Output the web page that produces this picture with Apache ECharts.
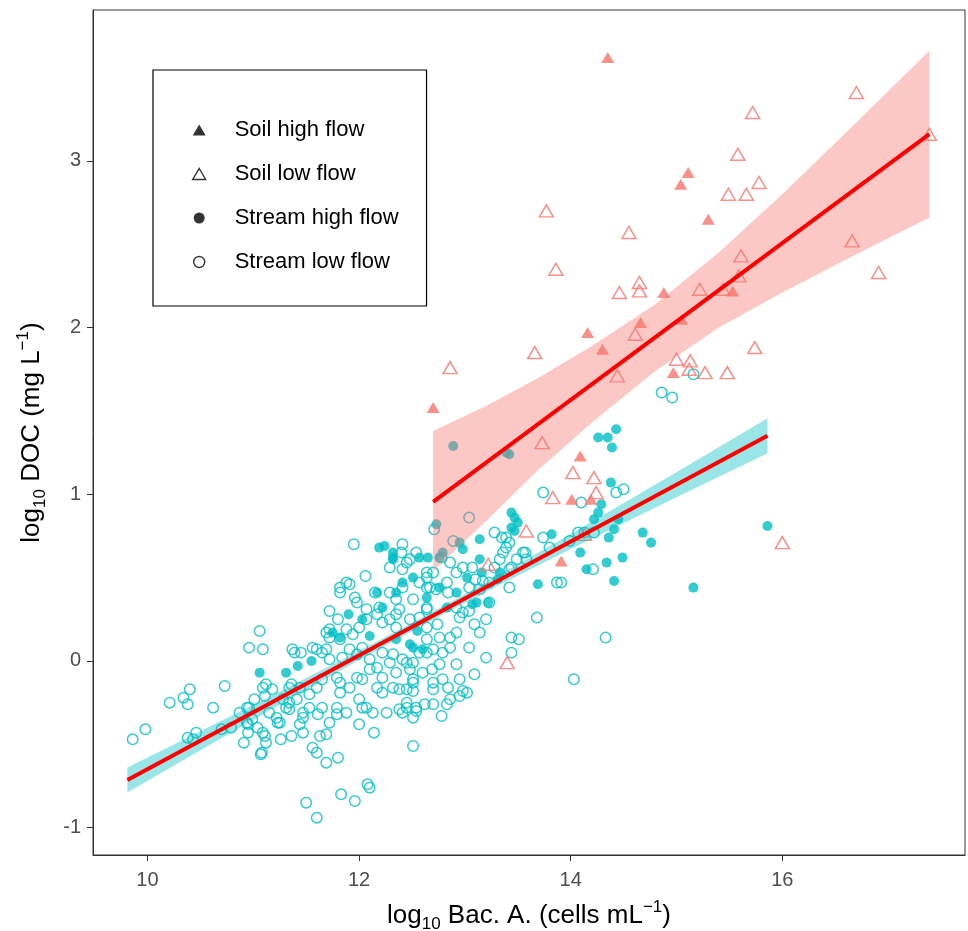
<!DOCTYPE html>
<html>
<head>
<meta charset="utf-8">
<script src="https://cdn.jsdelivr.net/npm/echarts@6/dist/echarts.min.js"></script>
<style>
html,body{margin:0;padding:0;background:#fff;}
#chart{width:968px;height:931px;}
</style>
</head>
<body>
<div id="chart"></div>
<script>
// ---- data ----
var xTicks = [10, 12, 14, 16];
var yTicks = [-1, 0, 1, 2, 3];

var soilHigh = [[14.35,3.62],[12.70,1.52],[14.16,1.97],[14.30,1.87],[14.66,2.03],[14.88,2.21],[15.11,2.93],[15.04,2.86],[15.30,2.65],[15.53,2.22],[14.97,1.73],[15.05,2.05],[14.09,1.23],[14.01,0.97],[14.19,0.97],[13.91,0.60]];

var soilLow = [[15.72,3.29],[16.70,3.41],[17.39,3.16],[15.58,3.04],[15.78,2.87],[15.49,2.80],[15.66,2.80],[16.66,2.52],[16.91,2.33],[15.61,2.43],[15.59,2.31],[15.74,1.88],[15.44,2.23],[15.22,2.23],[13.77,2.70],[14.55,2.57],[13.86,2.35],[14.46,2.21],[14.65,2.27],[14.65,2.22],[14.61,1.96],[13.66,1.85],[14.44,1.71],[15.00,1.81],[15.13,1.80],[15.12,1.75],[15.27,1.73],[15.48,1.73],[13.73,1.31],[14.02,1.13],[14.22,1.10],[14.24,1.01],[13.83,0.98],[13.58,0.78],[14.13,0.76],[12.86,1.76],[13.22,0.58],[13.40,-0.01],[16.00,0.71]];

var streamHigh = [[11.06,-0.07],[11.31,-0.07],[11.42,-0.03],[11.55,0.00],[12.19,0.68],[12.24,0.69],[12.32,0.65],[12.32,0.61],[12.41,0.47],[11.82,0.14],[11.75,0.17],[12.03,0.25],[12.22,0.32],[12.51,0.08],[12.35,0.13],[12.64,0.38],[12.60,0.07],[12.48,0.10],[12.17,0.41],[11.90,0.28],[12.10,0.15],[12.55,0.18],
[12.89,1.29],[13.39,1.25],[13.42,1.24],[12.73,0.82],[12.95,0.71],[12.79,0.65],[12.98,0.67],[12.76,0.62],[13.14,0.73],[13.44,0.89],[13.47,0.86],[13.50,0.83],[13.44,0.80],[13.47,0.78],[13.82,0.76],[13.14,0.61],[13.16,0.53],[13.02,0.50],[12.76,0.44],[12.92,0.41],[13.31,0.49],[13.69,0.46],[13.11,0.35],[12.83,0.32],[12.32,0.62],[12.57,0.62],[12.65,0.62],[12.51,0.50],[12.35,0.41],[13.33,0.53],[13.07,0.34],[13.22,0.35],
[14.43,1.39],[14.26,1.34],[14.35,1.34],[14.39,1.28],[14.38,1.07],[14.29,0.94],[14.26,0.89],[14.22,0.85],[14.45,0.85],[14.41,0.79],[14.36,0.74],[14.68,0.77],[14.76,0.71],[14.09,0.65],[14.34,0.59],[14.49,0.62],[14.15,0.55],[14.41,0.48],[15.16,0.44],[15.86,0.81]];

var streamLow = [[9.86,-0.47],[9.98,-0.41],[10.21,-0.25],[10.34,-0.22],[10.40,-0.17],[10.38,-0.26],[10.62,-0.28],[10.73,-0.15],[10.38,-0.46],[10.46,-0.43],[10.43,-0.47],[10.70,-0.41],[10.79,-0.40],[10.87,-0.31],[10.91,-0.49],[10.95,-0.38],[10.94,-0.28],[11.01,-0.23],[11.07,-0.56],[11.06,0.18],[10.96,0.08],[11.09,0.07],[11.12,-0.14],[11.18,-0.17],[11.11,-0.21],[11.09,-0.43],[11.11,-0.45],[11.12,-0.49],[11.26,-0.47],[11.22,-0.34],[11.25,-0.37],[11.31,-0.28],[11.34,-0.16],[10.99,-0.35],[11.04,-0.40],
[11.95,0.70],[12.06,0.51],[11.39,0.05],[11.45,0.05],[11.56,0.08],[11.72,0.30],[11.80,0.25],[11.72,0.19],[11.69,0.17],[11.82,0.41],[11.88,0.47],[11.91,0.46],[11.82,0.44],[11.96,0.38],[11.98,0.35],[12.15,0.41],[12.29,0.41],[12.35,0.37],[12.41,0.44],[12.41,0.70],[12.40,0.65],[12.45,0.59],[12.07,0.31],[12.17,0.28],[12.07,0.25],[11.88,0.19],[11.94,0.16],[12.00,0.20],[12.22,0.23],[12.29,0.25],[12.35,0.20],[11.82,0.13],[11.72,0.14],[11.65,0.05],[11.72,0.01],[11.84,0.02],[11.91,0.07],[11.98,0.04],[12.10,0.01],[12.17,-0.04],[12.22,0.05],[12.29,-0.01],[12.35,-0.07],[12.41,0.01],[10.96,-0.28],[11.09,-0.16],[11.36,-0.14],[11.28,-0.23],[11.41,-0.23],[11.53,-0.20],[11.60,-0.16],[11.65,-0.11],[11.79,-0.10],[11.82,-0.19],[11.91,-0.16],[11.98,-0.10],[12.03,-0.11],[12.17,-0.16],[12.22,-0.19],[12.32,-0.16],[12.38,-0.17],[11.65,-0.28],[11.79,-0.28],[11.88,-0.31],[12.03,-0.28],[12.13,-0.31],[12.26,-0.31],[12.38,-0.29],[11.15,-0.31],[11.34,-0.29],[11.47,-0.31],
[10.94,-0.37],[10.95,-0.43],[11.08,-0.55],[11.23,-0.37],[11.36,-0.45],[11.47,-0.43],[11.44,-0.38],[11.47,-0.34],[11.56,-0.52],[11.60,-0.55],[11.63,-0.45],[11.69,-0.44],[11.69,-0.61],[11.80,-0.58],[11.72,-0.37],[11.79,-0.32],[11.61,-0.32],[11.50,-0.85],[11.60,-0.94],[11.83,-0.80],[11.96,-0.84],[12.08,-0.74],[12.10,-0.76],[12.00,-0.38],[12.14,-0.43],[12.41,-0.31],[12.51,-0.51],[12.45,-0.28],[12.54,-0.28],[12.51,-0.34],[12.07,-0.28],[12.62,-0.26],
[12.64,0.53],[12.64,0.44],[12.64,0.31],[12.57,0.26],[12.48,0.25],[12.35,0.28],[12.19,0.32],[11.69,0.07],[11.60,0.07],[11.37,0.07],[12.03,0.08],[12.32,0.04],[12.45,-0.01],[12.57,0.05],[12.60,-0.07],[12.51,-0.13],[12.22,-0.10],[12.10,-0.05],[11.82,-0.13],[12.00,-0.23],[12.45,-0.25],[11.53,-0.28],[11.34,-0.25],[11.44,-0.16],
[13.04,0.86],[12.71,0.79],[12.89,0.72],[13.28,0.77],[13.35,0.74],[13.39,0.74],[13.42,0.71],[13.36,0.65],[13.74,1.01],[13.74,0.74],[13.55,0.65],[13.58,0.61],[13.49,0.61],[13.44,0.56],[13.28,0.56],[13.07,0.56],[12.98,0.56],[12.86,0.59],[12.92,0.53],[12.83,0.47],[12.70,0.53],[12.64,0.50],[12.67,0.44],[13.04,0.44],[13.14,0.43],[13.23,0.47],[13.42,0.44],[13.87,0.47],[13.23,0.35],[12.98,0.29],[13.04,0.30],[13.68,0.26],[12.54,0.65],[12.48,0.61],[12.29,0.56],[12.41,0.55],[12.51,0.37],[12.64,0.32],[12.38,0.31],[12.92,0.32],
[13.39,0.68],[12.78,0.62],[13.33,0.61],[13.42,0.55],[13.10,0.49],[13.17,0.48],[12.84,0.41],[12.73,0.43],[12.57,0.47],
[13.44,0.14],[13.51,0.13],[13.44,0.05],[13.20,0.02],[13.04,0.08],[13.20,0.25],[13.14,0.17],[13.09,0.22],[12.95,0.26],[12.86,0.14],[12.92,0.17],[12.86,0.08],[12.76,0.14],[12.74,0.22],[12.64,0.20],[12.64,0.13],[12.70,0.07],[12.64,0.05],[12.79,0.05],[12.92,-0.02],[12.76,-0.02],[12.69,-0.05],[12.51,-0.01],[12.48,-0.05],[12.51,-0.11],[12.45,-0.17],[12.51,-0.18],[12.70,-0.13],[12.70,-0.17],[12.79,-0.11],[12.84,-0.16],[12.95,-0.11],[13.09,-0.08],[12.98,-0.18],[12.95,-0.21],[13.02,-0.19],[12.86,-0.23],[12.83,-0.26],[12.70,-0.26],[12.54,-0.30],[12.78,-0.33],[14.03,-0.11],
[14.86,1.61],[14.96,1.58],[15.16,1.72],[14.10,0.95],[14.43,1.01],[14.50,1.03],[13.80,0.68],[14.07,0.77],[14.13,0.77],[14.22,0.77],[13.57,0.65],[14.21,0.55],[13.91,0.47],[13.99,0.72],[14.33,0.14]];

// fitted lines and confidence bands
var soilLine = [[12.70,0.954],[17.39,3.16]];
var streamLine = [[9.81,-0.714],[15.86,1.351]];
var soilBandX = [12.70,13.2,13.7,14.2,14.8,15.4,16.0,16.7,17.39];
var soilLower = [0.54,0.84,1.15,1.43,1.74,2.00,2.21,2.44,2.66];
var soilUpper = [1.38,1.53,1.70,1.89,2.14,2.45,2.80,3.23,3.66];
var streamBandX = [9.81,10.5,11.2,12.0,12.6,13.2,14.0,15.0,15.86];
var streamLower = [-0.789,-0.535,-0.280,0.006,0.214,0.415,0.671,0.982,1.246];
var streamUpper = [-0.639,-0.421,-0.200,0.060,0.262,0.471,0.761,1.132,1.456];

var FONT = '"Liberation Sans", Arial, Helvetica, sans-serif';
var SOIL = '#F8766D', STREAM = '#00BFC4';

function band(name, xs, lo, hi, color) {
  return {
    name: name, type: 'custom', silent: true, z: 3,
    data: [[xs[0], lo[0]]],
    renderItem: function (params, api) {
      var pts = [];
      for (var i = 0; i < xs.length; i++) pts.push(api.coord([xs[i], hi[i]]));
      for (var j = xs.length - 1; j >= 0; j--) pts.push(api.coord([xs[j], lo[j]]));
      return { type: 'polygon', shape: { points: pts }, style: { fill: color } };
    }
  };
}

var richTitle = {
  a: { fontSize: 26, fontFamily: FONT, color: '#000', lineHeight: 34 },
  b: { fontSize: 17, fontFamily: FONT, color: '#000', lineHeight: 17, verticalAlign: 'bottom' },
  c: { fontSize: 17, fontFamily: FONT, color: '#000', lineHeight: 17, verticalAlign: 'top' }
};

var chart = echarts.init(document.getElementById('chart'), null, { renderer: 'canvas' });
chart.setOption({
  animation: false,
  backgroundColor: '#fff',
  grid: { left: 93, right: 3, top: 10, bottom: 76, outerBoundsMode: 'none', containLabel: false,
    show: true, borderColor: '#333', borderWidth: 1, backgroundColor: 'transparent' },
  xAxis: {
    type: 'value', min: 9.485, max: 17.727,
    splitLine: { show: false },
    axisLine: { show: true, onZero: false, lineStyle: { color: '#333', width: 1 } },
    axisTick: { show: true, length: 6, lineStyle: { color: '#333', width: 1 }, customValues: xTicks },
    axisLabel: { customValues: xTicks, fontSize: 20, color: '#4D4D4D', fontFamily: FONT, margin: 15 },
    name: '{a|log}{b|10}{a| Bac. A. (cells mL}{c|\u22121}{a|)}',
    nameLocation: 'middle', nameGap: 44,
    nameTextStyle: { rich: richTitle }
  },
  yAxis: {
    type: 'value', min: -1.164, max: 3.905,
    splitLine: { show: false },
    axisLine: { show: true, onZero: false, lineStyle: { color: '#333', width: 1 } },
    axisTick: { show: true, length: 6, lineStyle: { color: '#333', width: 1 }, customValues: yTicks },
    axisLabel: { customValues: yTicks, fontSize: 20, color: '#4D4D4D', fontFamily: FONT, margin: 12 },
    name: '{a|log}{b|10}{a| DOC (mg L}{c|\u22121}{a|)}',
    nameLocation: 'middle', nameGap: 44, nameRotate: 90,
    nameTextStyle: { rich: richTitle }
  },
  legend: {
    orient: 'vertical', left: 153, top: 70,
    padding: [49, 28, 33, 39],
    itemWidth: 13, itemHeight: 11, itemGap: 22,
    borderColor: '#000', borderWidth: 1.2, backgroundColor: '#fff',
    selectedMode: false,
    formatter: function (n) { return '{t|' + n + '}'; },
    textStyle: { fontSize: 22, fontFamily: FONT, color: '#000', lineHeight: 22,
      rich: { t: { fontSize: 22, fontFamily: FONT, color: '#000', lineHeight: 22, padding: [0, 0, 0, 24] } } },
    data: [
      { name: 'Soil high flow', icon: 'triangle', itemStyle: { color: '#000', borderWidth: 0 } },
      { name: 'Soil low flow', icon: 'triangle', itemStyle: { color: 'rgba(0,0,0,0)', borderColor: '#000', borderWidth: 1.4 } },
      { name: 'Stream high flow', icon: 'circle', itemStyle: { color: '#000', borderWidth: 0 } },
      { name: 'Stream low flow', icon: 'circle', itemStyle: { color: 'rgba(0,0,0,0)', borderColor: '#000', borderWidth: 1.4 } }
    ]
  },
  series: [
    { name: 'Stream low flow', type: 'scatter', symbol: 'circle', symbolSize: 10.5, z: 2, data: streamLow,
      itemStyle: { color: 'rgba(0,0,0,0)', borderColor: STREAM, borderWidth: 1.5 } },
    { name: 'Stream high flow', type: 'scatter', symbol: 'circle', symbolSize: 10, z: 2, data: streamHigh,
      itemStyle: { color: STREAM } },
    { name: 'Soil low flow', type: 'scatter', symbol: 'triangle', symbolSize: [14, 12], z: 2, data: soilLow,
      itemStyle: { color: 'rgba(0,0,0,0)', borderColor: SOIL, borderWidth: 1.5 } },
    { name: 'Soil high flow', type: 'scatter', symbol: 'triangle', symbolSize: [13, 11], z: 2, data: soilHigh,
      itemStyle: { color: SOIL } },
    band('soilBand', soilBandX, soilLower, soilUpper, 'rgba(248,118,109,0.4)'),
    band('streamBand', streamBandX, streamLower, streamUpper, 'rgba(0,191,196,0.4)'),
    { name: 'soilFit', type: 'line', data: soilLine, symbol: 'none', z: 4, silent: true,
      lineStyle: { color: '#FF0000', width: 4 } },
    { name: 'streamFit', type: 'line', data: streamLine, symbol: 'none', z: 4, silent: true,
      lineStyle: { color: '#FF0000', width: 4 } }
  ]
});
</script>
</body>
</html>
